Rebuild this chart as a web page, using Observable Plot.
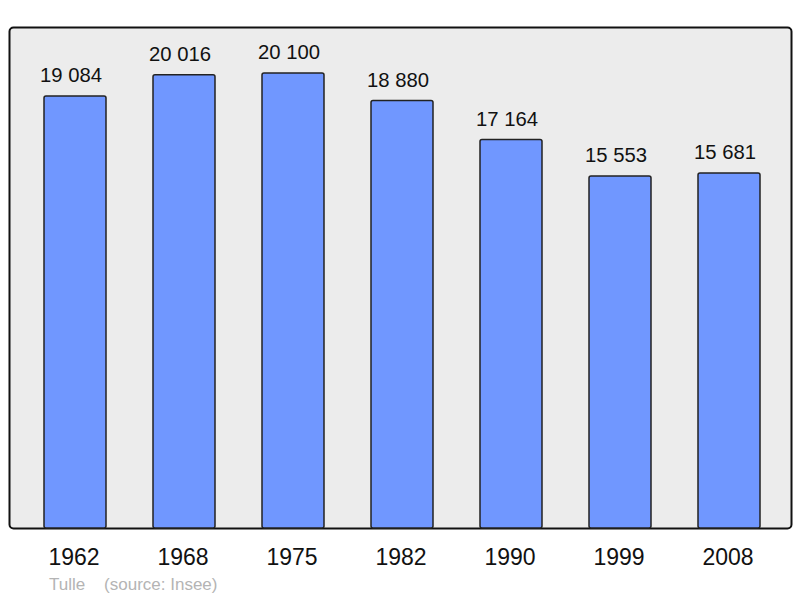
<!DOCTYPE html>
<html>
<head>
<meta charset="utf-8">
<script src="https://cdn.jsdelivr.net/npm/d3@7"></script>
<script src="https://cdn.jsdelivr.net/npm/@observablehq/plot@0.6"></script>
<style>
  html, body { margin: 0; padding: 0; background: #fff; }
  body { width: 800px; height: 598px; position: relative; overflow: hidden; font-family: "Liberation Sans", Arial, sans-serif; }
  #caption { position: absolute; left: 49px; top: 576px; font-size: 17px; line-height: 1; color: #b4b4b4; white-space: pre; }
</style>
</head>
<body>
<div id="chart"></div>
<div id="caption">Tulle    (source: Insee)</div>
<script>
const years = ["1962", "1968", "1975", "1982", "1990", "1999", "2008"];
const population = [19084, 20016, 20100, 18880, 17164, 15553, 15681];
const valueLabels = ["19 084", "20 016", "20 100", "18 880", "17 164", "15 553", "15 681"];

const data = years.map((y, i) => ({year: y, pop: population[i], label: valueLabels[i]}));

const chart = Plot.plot({
  width: 800,
  height: 570,
  marginLeft: 9,
  marginRight: 9,
  marginTop: 27,
  marginBottom: 42,
  style: {fontFamily: '"Liberation Sans", Arial, sans-serif', background: "transparent"},
  x: {domain: years, range: [9.5, 793.8], paddingInner: 0.4335, paddingOuter: 0.3, align: 0.5},
  y: {domain: [0, 22130], axis: null},
  marks: [
    Plot.frame({fill: "#ececec", stroke: "#111", strokeWidth: 2, rx: 4}),
    Plot.barY(data, {x: "year", y: "pop", fill: "#7097ff", stroke: "#222", strokeWidth: 1.5, rx: 2}),
    Plot.text(data, {x: "year", y: "pop", text: "label", lineAnchor: "bottom", dy: -14, dx: -4.5, fontSize: 20.3, fill: "#111"}),
    Plot.axisX({tickSize: 0, tickPadding: 20.5, fontSize: 23, color: "#111", dx: -1.5, label: null})
  ]
});
document.getElementById("chart").appendChild(chart);
</script>
</body>
</html>
